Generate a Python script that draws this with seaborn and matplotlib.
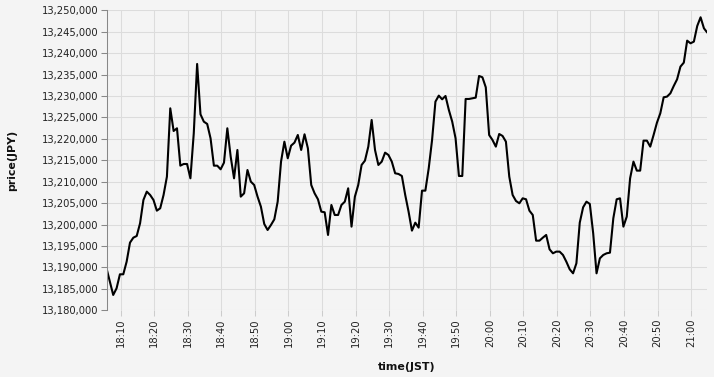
import matplotlib
matplotlib.use("Agg")
import matplotlib.pyplot as plt
import matplotlib.dates as mdates
import matplotlib.ticker as mticker
import numpy as np
import pandas as pd
import seaborn as sns

start_time = "2024-01-01 18:05:48"
n_points = 180
prices = [
    13189800, 13186690, 13183580, 13185130, 13188400, 13188400, 13191350, 13195790, 13196950, 13197340,
    13200300, 13205740, 13207690, 13206910, 13205740, 13203250, 13203800, 13206910, 13211190, 13227130,
    13221840, 13222470, 13213750, 13214140, 13214140, 13210800, 13221300, 13237480, 13225730, 13224020,
    13223480, 13220130, 13213750, 13213750, 13212900, 13214450, 13222470, 13215850, 13210800, 13217410,
    13206520, 13207300, 13212740, 13210020, 13209240, 13206520, 13204190, 13200140, 13198740, 13199910,
    13201230, 13205350, 13214690, 13219350, 13215470, 13218420, 13219120, 13220910, 13217410, 13221070,
    13217800, 13209240, 13207300, 13205900, 13203020, 13202870, 13197580, 13204580, 13202240, 13202240,
    13204580, 13205350, 13208460, 13199520, 13206520, 13209240, 13213910, 13214920, 13218190, 13224410,
    13217410, 13213910, 13214690, 13216790, 13216240, 13214690, 13211970, 13211810, 13211340, 13206910,
    13203020, 13198590, 13200450, 13199290, 13207920, 13207920, 13213130, 13219740, 13228690, 13230090,
    13229230, 13230010, 13226740, 13224020, 13220130, 13211340, 13211340, 13229310, 13229310, 13229470,
    13229620, 13234680, 13234370, 13232030, 13220910, 13219740, 13218190, 13221140, 13220680, 13219350,
    13211190, 13206910, 13205510, 13204970, 13206130, 13205900, 13203250, 13202240, 13196250, 13196250,
    13196950, 13197580, 13194230, 13193300, 13193690, 13193690, 13192910, 13191350, 13189570, 13188630,
    13190970, 13200450, 13204030, 13205350, 13204810, 13197970, 13188630, 13192130, 13192910, 13193300,
    13193450, 13201470, 13205900, 13206130, 13199520, 13201850, 13210800, 13214690, 13212590, 13212590,
    13219590, 13219590, 13218190, 13220910, 13223790, 13225970, 13229700, 13229860, 13230630, 13232340,
    13233900, 13236860, 13237790, 13242920, 13242300, 13242690, 13246340, 13248370, 13245800, 13244790,
]
y_min, y_max, y_step = 13180000, 13250000, 5000
x_title = "time(JST)"
y_title = "price(JPY)"

times = pd.date_range(start_time, periods=n_points, freq="1min")
df = pd.DataFrame({"time": times, "price": prices})

sns.set_theme(style="white")
plt.rcParams["font.family"] = ["DejaVu Sans"]

bg = "#f4f4f4"
grid_c = "#dcdcdc"
W, H = 714, 377
ax_l, ax_w, ax_b, ax_h = 106.5, 600.8, 310.3, 300
fig = plt.figure(figsize=(W / 100, H / 100), dpi=100, facecolor=bg)
ax = fig.add_axes([ax_l / W, 1 - ax_b / H, ax_w / W, ax_h / H])
ax.set_facecolor(bg)

sns.lineplot(data=df, x="time", y="price", ax=ax, color="black", linewidth=1.5)

ax.set_xlim(times[0], times[-1])
ax.set_ylim(y_min, y_max)
ax.yaxis.set_major_locator(mticker.MultipleLocator(y_step))
ax.yaxis.set_major_formatter(mticker.FuncFormatter(lambda v, p: f"{int(round(v)):,}"))
ax.xaxis.set_major_locator(mdates.MinuteLocator(byminute=range(0, 60, 10)))
ax.xaxis.set_major_formatter(mdates.DateFormatter("%H:%M"))

ax.grid(True, color=grid_c, linewidth=0.75)
ax.set_axisbelow(True)
for s in ["top", "right", "bottom"]:
    ax.spines[s].set_visible(False)
ax.spines["left"].set_color("#888888")
ax.spines["left"].set_linewidth(0.75)

ax.tick_params(axis="y", which="major", length=4, width=0.75, color="#888888",
               labelsize=7.2, labelcolor="#222222", pad=1.5, left=True)
ax.tick_params(axis="x", which="major", length=4, width=0.75, color="#cccccc",
               labelsize=7.2, labelcolor="#222222", pad=2, bottom=True, labelrotation=90)

ax.set_xlabel(x_title, fontsize=7.9, fontweight="bold", color="#111111")
ax.set_ylabel(y_title, fontsize=7.9, fontweight="bold", color="#111111")
ax.xaxis.set_label_coords(0.5, (ax_b - 366.5) / ax_h)
ax.yaxis.set_label_coords((12.5 - ax_l) / ax_w, 0.5)
ax.xaxis.label.set_va("center")
ax.yaxis.label.set_va("center")

fig.savefig("out.png", dpi=100, facecolor=bg)
